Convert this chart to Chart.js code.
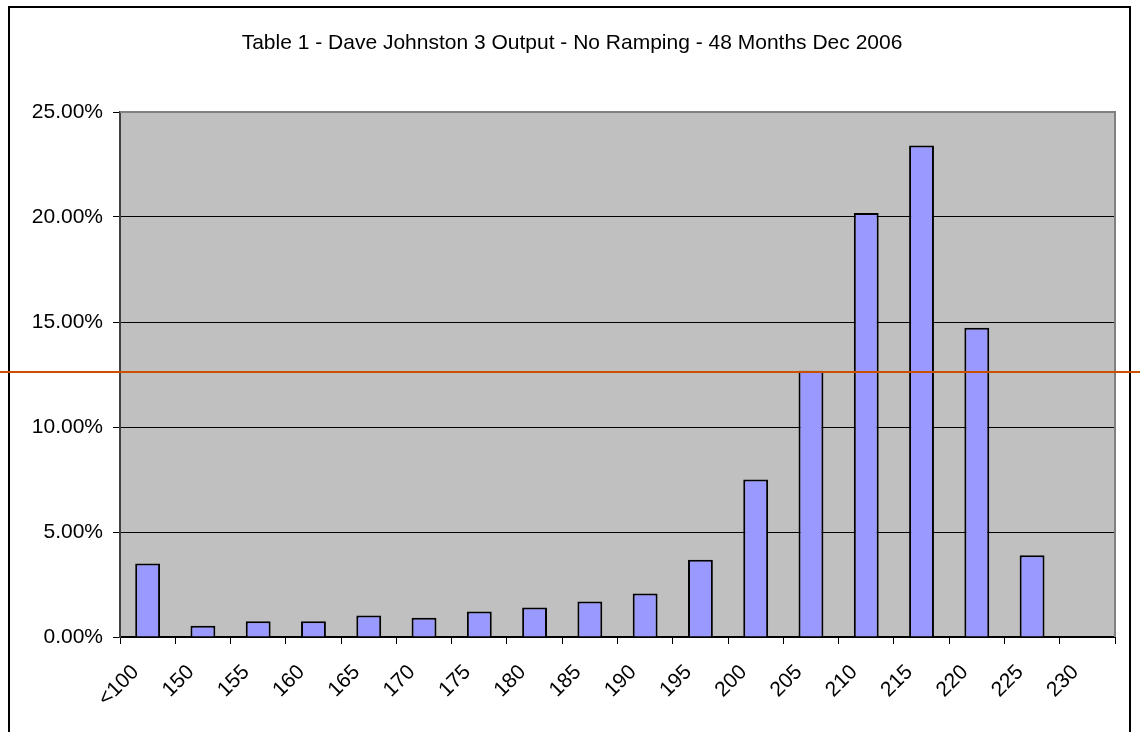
<!DOCTYPE html>
<html>
<head>
<meta charset="utf-8">
<script src="https://cdn.jsdelivr.net/npm/chart.js@4"></script>
<style>
    html, body { margin: 0; padding: 0; background: #fff; }
    canvas { display: block; }
</style>
</head>
<body>
<canvas id="chart" width="1140" height="732"></canvas>
<script>
// ---- Data (percent of hours in each output bin) ----
const categories = ['<100', '150', '155', '160', '165', '170', '175', '180', '185',
    '190', '195', '200', '205', '210', '215', '220', '225', '230'];
const shares = [3.50, 0.54, 0.75, 0.75, 1.02, 0.92, 1.22, 1.41, 1.69,
    2.07, 3.68, 7.50, 12.68, 20.19, 23.40, 14.73, 3.89, 0];
const yTicks = [0, 5, 10, 15, 20, 25];
const markerValue = 12.63;

const TITLE = 'Table 1 - Dave Johnston 3 Output - No Ramping - 48 Months Dec 2006';
const FONT = '"Liberation Sans", Arial, sans-serif';

// Plot background, frame, title and the orange marker line
const decorations = {
    id: 'decorations',
    beforeDraw(chart) {
        const { ctx, chartArea: a } = chart;
        ctx.save();
        ctx.fillStyle = '#fff';
        ctx.fillRect(0, 0, chart.width, chart.height);
        ctx.fillStyle = '#c0c0c0';
        ctx.fillRect(a.left, a.top, a.right - a.left, a.bottom - a.top);

        // outer frame (bottom edge is off the picture)
        ctx.strokeStyle = '#000';
        ctx.lineWidth = 2;
        ctx.strokeRect(9, 7, 1121, 760);

        ctx.fillStyle = '#000';
        ctx.font = '21px ' + FONT;
        ctx.textAlign = 'center';
        ctx.textBaseline = 'middle';
        ctx.fillText(TITLE, 572, 43);
        ctx.restore();
    },
    afterDraw(chart) {
        const { ctx, chartArea: a } = chart;
        ctx.save();
        ctx.strokeStyle = '#808080';
        ctx.lineWidth = 2;
        ctx.beginPath();
        ctx.moveTo(a.left, a.top);
        ctx.lineTo(a.right, a.top);
        ctx.lineTo(a.right, a.bottom);
        ctx.stroke();

        const y = Math.round(chart.scales.y.getPixelForValue(markerValue));
        ctx.strokeStyle = '#c85000';
        ctx.lineWidth = 2;
        ctx.beginPath();
        ctx.moveTo(0, y);
        ctx.lineTo(chart.width, y);
        ctx.stroke();
        ctx.restore();
    }
};

new Chart(document.getElementById('chart').getContext('2d'), {
    type: 'bar',
    data: {
        labels: categories,
        datasets: [{
            data: shares,
            backgroundColor: '#9999ff',
            borderColor: '#000',
            borderWidth: 2,
            barPercentage: 0.45,
            categoryPercentage: 1
        }]
    },
    options: {
        responsive: false,
        animation: false,
        devicePixelRatio: 1,
        layout: { padding: { left: 0, right: 25, top: 112, bottom: 0 } },
        plugins: {
            legend: { display: false },
            title: { display: false },
            tooltip: { enabled: false }
        },
        scales: {
            x: {
                afterFit: (s) => { s.height = 95; },
                grid: {
                    offset: true,
                    drawOnChartArea: false,
                    drawTicks: true,
                    tickLength: 7,
                    color: '#000'
                },
                border: { color: '#000', width: 2 },
                ticks: {
                    color: '#000',
                    font: { family: FONT, size: 21 },
                    maxRotation: 45,
                    minRotation: 45,
                    padding: 16,
                    labelOffset: -12,
                    autoSkip: false
                }
            },
            y: {
                min: 0,
                max: 25,
                afterFit: (s) => { s.width = 120; },
                afterBuildTicks: (s) => { s.ticks = yTicks.map(v => ({ value: v })); },
                grid: {
                    color: '#000',
                    lineWidth: 1,
                    tickLength: 7
                },
                border: { color: '#404040', width: 2 },
                ticks: {
                    color: '#000',
                    font: { family: FONT, size: 21 },
                    padding: 10,
                    callback: (v) => v.toFixed(2) + '%'
                }
            }
        }
    },
    plugins: [decorations]
});
</script>
</body>
</html>
